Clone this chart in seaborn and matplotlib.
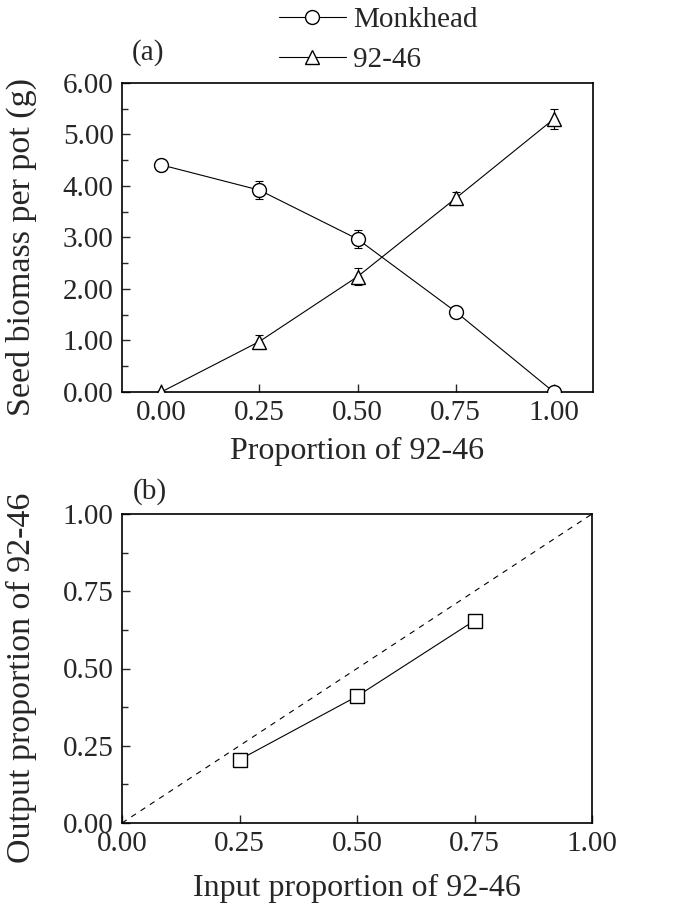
import numpy as np
import pandas as pd
import seaborn as sns
import matplotlib.pyplot as plt
from matplotlib.ticker import MultipleLocator

sns.set_style("ticks")
plt.rcParams["font.family"] = ["Liberation Serif", "DejaVu Serif"]

# panel (a) data
proportion = [0.00, 0.25, 0.50, 0.75, 1.00]
monkhead = [4.41, 3.92, 2.97, 1.56, 0.0]
monkhead_err = [0.12, 0.18, 0.17, 0.09, 0.04]
line_9246 = [0.0, 0.98, 2.24, 3.76, 5.30]
line_9246_err = [0.02, 0.12, 0.16, 0.13, 0.20]

# panel (b) data
input_prop = [0.25, 0.50, 0.75]
output_prop = [0.205, 0.41, 0.655]
tick_vals = [0.00, 0.25, 0.50, 0.75, 1.00]

df_a = pd.DataFrame({"x": proportion * 2,
                     "y": monkhead + line_9246,
                     "err": monkhead_err + line_9246_err,
                     "cultivar": ["Monkhead"] * 5 + ["92-46"] * 5})
df_b = pd.DataFrame({"x": input_prop, "y": output_prop})

fs_tick = 21
fs_lab = 23
fs_ylab = 24.5
W, H = 678, 919
fig = plt.figure(figsize=(W/100, H/100), dpi=100)
ax1 = fig.add_axes([122/W, 1 - 392/H, 471/W, 309/H])
ax2 = fig.add_axes([122/W, 1 - 823/H, 470/W, 309/H])

markers = {"Monkhead": "o", "92-46": "^"}
handles = []
for name in ["Monkhead", "92-46"]:
    d = df_a[df_a["cultivar"] == name]
    ax1.errorbar(d["x"], d["y"], yerr=d["err"], fmt="none", ecolor="black",
                 elinewidth=0.8, capsize=3, capthick=0.8, zorder=2)
    sns.lineplot(data=d, x="x", y="y", ax=ax1, color="black", linewidth=0.8,
                 marker=markers[name], markersize=10, markerfacecolor="white",
                 markeredgecolor="black", markeredgewidth=1.0, zorder=3)
    handles.append(plt.Line2D([], [], color="black", linewidth=0.8,
                              marker=markers[name], markersize=10,
                              markerfacecolor="white", markeredgecolor="black",
                              label=name))

ax1.set_xlim(-0.1, 1.1)
ax1.set_ylim(0, 6)
ax1.set_xticks(tick_vals)
ax1.set_xticklabels(["{:.2f}".format(v) for v in tick_vals])
ax1.yaxis.set_major_locator(MultipleLocator(1))
ax1.yaxis.set_minor_locator(MultipleLocator(0.5))
ax1.yaxis.set_major_formatter(lambda v, p: "{:.2f}".format(v))
ax1.set_xlabel("Proportion of 92-46", fontsize=fs_lab, labelpad=8)
ax1.set_ylabel("Seed biomass per pot (g)", fontsize=fs_ylab)
ax1.yaxis.set_label_coords(-0.18, 0.47)
fig.text(132/W, 1 - 53/H, "(a)", fontsize=fs_tick, va="center", ha="left")
fig.legend(handles=handles, loc="center left",
           bbox_to_anchor=(264/W, 1 - 40/H),
           frameon=False, fontsize=fs_tick, handlelength=2.3,
           handletextpad=0.25, labelspacing=0.45, borderpad=0)

ax2.plot([0, 1], [0, 1], color="black", linestyle=(0, (5, 5)), linewidth=0.8)
sns.lineplot(data=df_b, x="x", y="y", ax=ax2, color="black", linewidth=0.8,
             marker="s", markersize=10, markerfacecolor="white",
             markeredgecolor="black", markeredgewidth=1.0)
ax2.set_xlim(0, 1)
ax2.set_ylim(0, 1)
ax2.set_xticks(tick_vals)
ax2.set_xticklabels(["{:.2f}".format(v) for v in tick_vals])
ax2.yaxis.set_major_locator(MultipleLocator(0.25))
ax2.yaxis.set_minor_locator(MultipleLocator(0.125))
ax2.yaxis.set_major_formatter(lambda v, p: "{:.2f}".format(v))
ax2.set_xlabel("Input proportion of 92-46", fontsize=fs_lab, labelpad=12)
ax2.set_ylabel("Output proportion of 92-46", fontsize=fs_ylab)
ax2.yaxis.set_label_coords(-0.18, 0.47)
fig.text(133/W, 1 - 492/H, "(b)", fontsize=fs_tick, va="center", ha="left")

for ax in [ax1, ax2]:
    ax.tick_params(axis="both", which="major", direction="in", length=6,
                   width=1, labelsize=fs_tick, top=False, right=False, pad=6)
    ax.tick_params(axis="both", which="minor", direction="in", length=4, width=1)
    for s in ax.spines.values():
        s.set_linewidth(1.2)
        s.set_color("black")

fig.savefig("out.png", dpi=100)
